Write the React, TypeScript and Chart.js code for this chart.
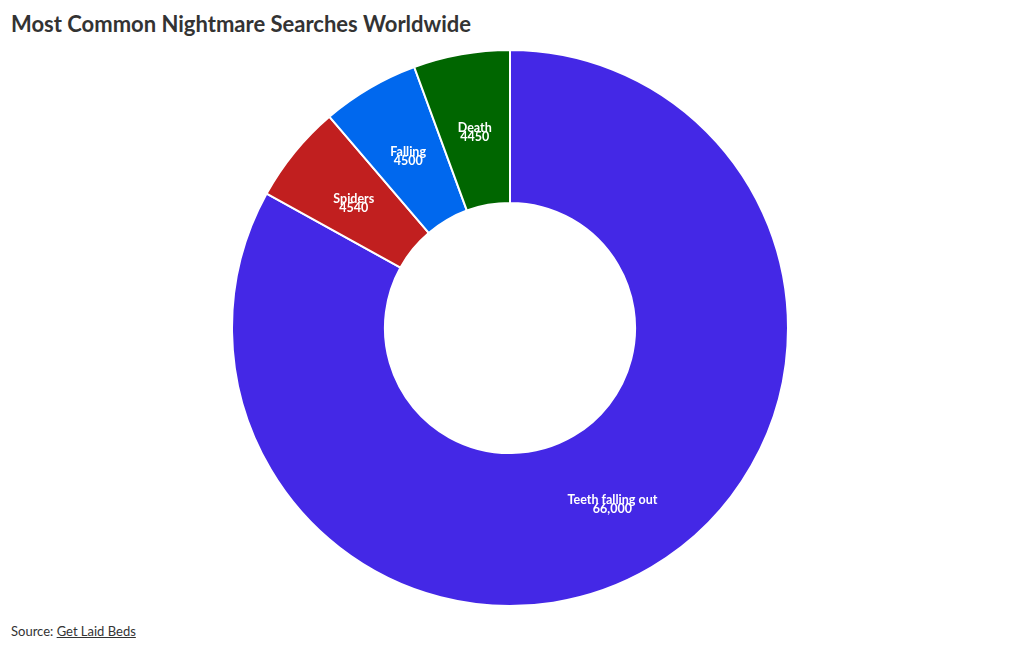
import { useEffect, useRef } from 'react'
import Chart from 'chart.js/auto'

const categories = ['Teeth falling out', 'Spiders', 'Falling', 'Death']
const searches = [66000, 4540, 4500, 4450]
const valueLabels = ['66,000', '4540', '4500', '4450']
const colors = ['#4428e6', '#c11f1f', '#0068ee', '#006600']

const font = 'Lato, "Open Sans", sans-serif'

const sliceLabels = {
  id: 'sliceLabels',
  afterDatasetsDraw(chart: Chart) {
    const ctx = chart.ctx
    const meta = chart.getDatasetMeta(0)
    ctx.save()
    ctx.fillStyle = '#ffffff'
    ctx.textAlign = 'center'
    ctx.textBaseline = 'middle'
    ctx.font = `bold 12.5px ${font}`
    meta.data.forEach((arc, i) => {
      const { x, y } = (arc as any).tooltipPosition()
      ctx.fillText(categories[i], x, y - 2)
      ctx.fillText(valueLabels[i], x, y + 7)
    })
    ctx.restore()
  },
}

export default function App() {
  const canvasRef = useRef<HTMLCanvasElement | null>(null)

  useEffect(() => {
    document.body.style.margin = '0'
    if (!canvasRef.current) return
    const chart = new Chart(canvasRef.current, {
      type: 'doughnut',
      data: {
        labels: categories,
        datasets: [
          {
            data: searches,
            backgroundColor: colors,
            borderColor: '#ffffff',
            borderWidth: 2,
          },
        ],
      },
      options: {
        animation: false,
        responsive: true,
        maintainAspectRatio: false,
        cutout: '45%',
        layout: { padding: 0 },
        plugins: {
          legend: { display: false },
          tooltip: { enabled: false },
        },
      },
      plugins: [sliceLabels],
    })
    return () => chart.destroy()
  }, [])

  return (
    <div style={{ position: 'relative', width: 1020, height: 650, background: '#fff', fontFamily: font }}>
      <div
        style={{
          position: 'absolute',
          left: 11,
          top: 10,
          fontSize: 22,
          fontWeight: 700,
          color: '#333',
          lineHeight: '28px',
        }}
      >
        Most Common Nightmare Searches Worldwide
      </div>
      <div style={{ position: 'absolute', left: 0, top: 49, width: 1020, height: 558 }}>
        <canvas ref={canvasRef} />
      </div>
      <div style={{ position: 'absolute', left: 11, top: 622, fontSize: 13, color: '#333', lineHeight: '18px' }}>
        Source: <span style={{ textDecoration: 'underline' }}>Get Laid Beds</span>
      </div>
    </div>
  )
}
